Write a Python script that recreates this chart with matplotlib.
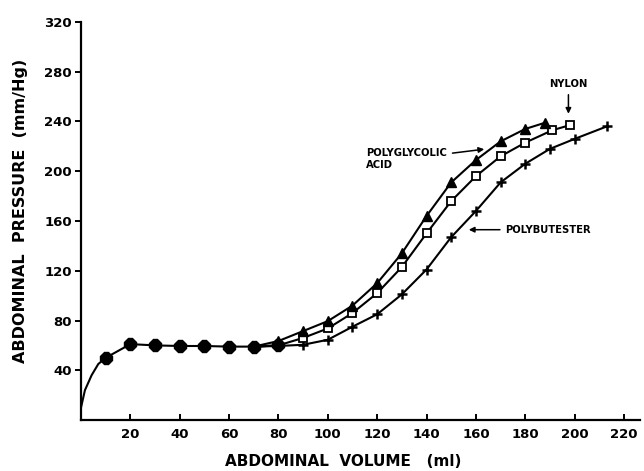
import matplotlib
matplotlib.use("Agg")
import matplotlib.pyplot as plt

# shared start of all three curves (volume ml, pressure mm/Hg)
start_x = [0, 1.6, 4.3, 7]
start_y = [10, 24, 36, 45]
common_x = [10, 20, 30, 40, 50, 60, 70, 80]
common_y = [50, 61, 60, 59.5, 59.5, 59, 59, 60]

pga_x = [70, 80, 90, 100, 110, 120, 130, 140, 150, 160, 170, 180, 188]
pga_y = [59, 63.5, 71.5, 79.5, 92, 110, 134, 164, 191, 209, 224, 234, 239]

nylon_x = [70, 80, 90, 100, 110, 120, 130, 140, 150, 160, 170, 180, 191, 198]
nylon_y = [59, 60, 66, 73.6, 86, 102, 123, 150, 176, 196, 212, 223, 233, 237]

pbt_x = [70, 80, 90, 100, 110, 120, 130, 140, 150, 160, 170, 180, 190, 200, 213]
pbt_y = [59, 59.5, 60.5, 64.5, 75, 85, 101, 121, 147, 168, 191, 206, 218, 226, 236]

xticks = [20, 40, 60, 80, 100, 120, 140, 160, 180, 200, 220]
yticks = [40, 80, 120, 160, 200, 240, 280, 320]

plt.rcParams['font.family'] = ['DejaVu Sans']
plt.rcParams['font.weight'] = 'bold'

fig = plt.figure(figsize=(6.44, 4.71), dpi=100)
ax = fig.add_axes([81 / 644, 51 / 471, 559 / 644, 398 / 471])

lw = 1.5
ax.plot(start_x + common_x, start_y + common_y, color='k', lw=lw)
ax.plot(pbt_x, pbt_y, color='k', lw=lw, marker='+', ms=7, mew=1.8,
        markevery=slice(2, None))
ax.plot(nylon_x, nylon_y, color='k', lw=lw, marker='s', ms=6, mew=1.3,
        mfc='white', mec='k', markevery=slice(2, None))
ax.plot(pga_x, pga_y, color='k', lw=lw, marker='^', ms=7.5,
        mfc='k', mec='k', markevery=slice(1, None))
ax.plot(common_x, common_y, ls='none', marker='8', ms=9, color='k')

ax.set_xlim(0, 226.5)
ax.set_ylim(0, 320)
ax.set_xticks(xticks)
ax.set_yticks(yticks)
ax.spines['top'].set_visible(False)
ax.spines['right'].set_visible(False)
for s in ('left', 'bottom'):
    ax.spines[s].set_linewidth(1.6)
ax.tick_params(axis='x', direction='in', length=4, width=1.4, pad=6,
               labelsize=9.5)
ax.tick_params(axis='y', direction='out', length=4.5, width=1.4, pad=2,
               labelsize=9.5)

ax.set_xlabel('ABDOMINAL  VOLUME   (ml)', fontsize=11, fontweight='bold',
              va='center')
ax.set_ylabel('ABDOMINAL  PRESSURE  (mm/Hg)', fontsize=11.5,
              fontweight='bold', va='center')
ax.xaxis.set_label_coords(0.469, -0.105)
ax.yaxis.set_label_coords(-0.109, 0.525)

arrow = dict(arrowstyle='-|>', color='k', lw=1.1, mutation_scale=8)
ax.annotate('NYLON', xy=(197.5, 244), xytext=(197.5, 266), fontsize=7.2,
            fontweight='bold', ha='center', va='bottom', arrowprops=arrow)
ax.annotate('POLYGLYCOLIC\nACID', xy=(164.5, 218), xytext=(115.5, 219),
            fontsize=7.2, fontweight='bold', ha='left', va='top',
            linespacing=1.3, arrowprops=arrow)
ax.annotate('POLYBUTESTER', xy=(156, 153), xytext=(172, 153), fontsize=7.2,
            fontweight='bold', ha='left', va='center', arrowprops=arrow)

fig.savefig('out.png', dpi=100)
